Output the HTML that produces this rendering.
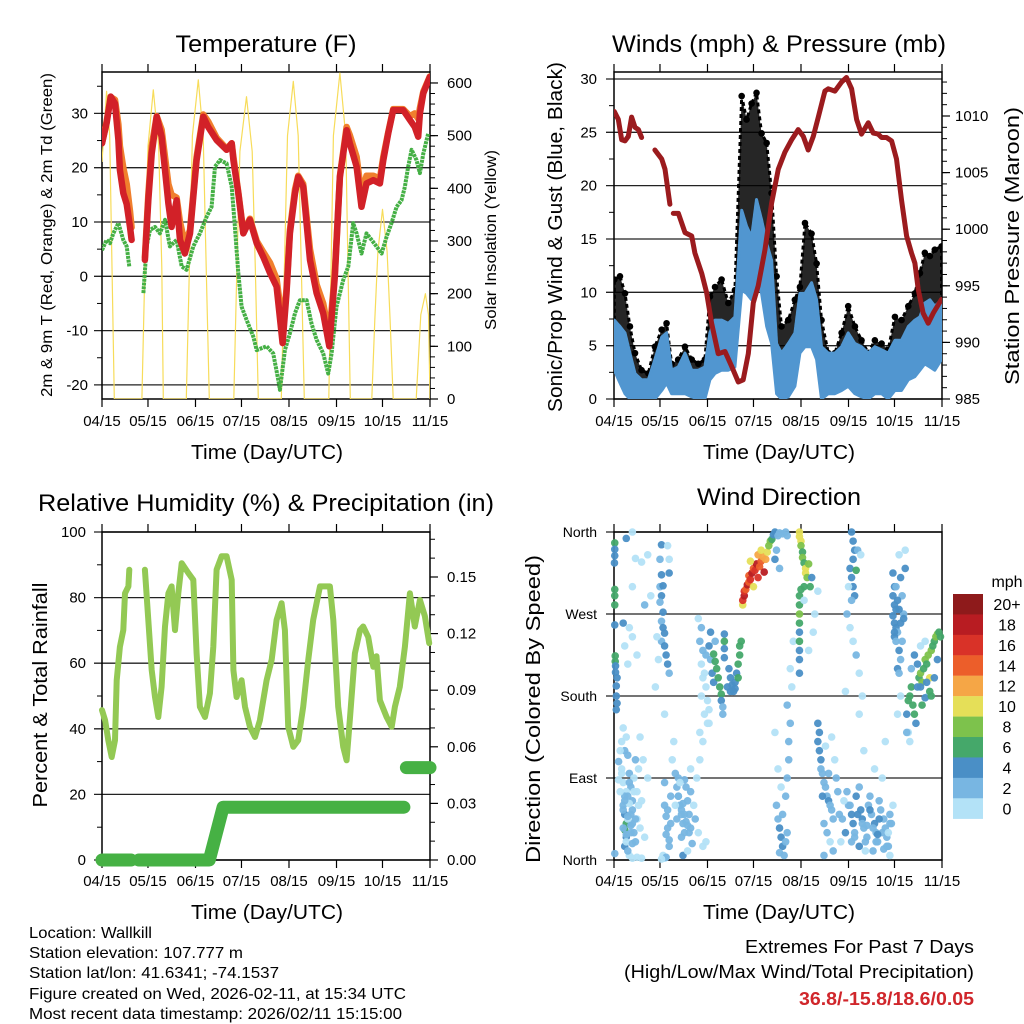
<!DOCTYPE html>
<html><head><meta charset="utf-8">
<style>
html,body{margin:0;padding:0;background:#fff}
svg{display:block}
text{font-family:"Liberation Sans",Arial,sans-serif;fill:#000}
</style></head>
<body>
<svg id="fig" xmlns="http://www.w3.org/2000/svg" width="1024" height="1024" viewBox="0 0 1024 1024">
<rect x="0" y="0" width="1024" height="1024" fill="#fff"/>
<text x="266" y="52" font-size="24" text-anchor="middle" textLength="181" lengthAdjust="spacingAndGlyphs">Temperature (F)</text>
<text x="779" y="52" font-size="24" text-anchor="middle" textLength="334" lengthAdjust="spacingAndGlyphs">Winds (mph) &amp; Pressure (mb)</text>
<text x="266" y="511" font-size="24" text-anchor="middle" textLength="456" lengthAdjust="spacingAndGlyphs">Relative Humidity (%) &amp; Precipitation (in)</text>
<text x="779" y="505" font-size="24" text-anchor="middle" textLength="164" lengthAdjust="spacingAndGlyphs">Wind Direction</text>
<text x="267" y="459" font-size="20" text-anchor="middle" textLength="152" lengthAdjust="spacingAndGlyphs">Time (Day/UTC)</text>
<text x="779" y="459" font-size="20" text-anchor="middle" textLength="152" lengthAdjust="spacingAndGlyphs">Time (Day/UTC)</text>
<text x="267" y="919" font-size="20" text-anchor="middle" textLength="152" lengthAdjust="spacingAndGlyphs">Time (Day/UTC)</text>
<text x="779" y="919" font-size="20" text-anchor="middle" textLength="152" lengthAdjust="spacingAndGlyphs">Time (Day/UTC)</text>
<text transform="translate(52,235) rotate(-90)" font-size="16" text-anchor="middle" textLength="324" lengthAdjust="spacingAndGlyphs">2m &amp; 9m T (Red, Orange) &amp; 2m Td (Green)</text>
<text transform="translate(496,240) rotate(-90)" font-size="16" text-anchor="middle" textLength="180" lengthAdjust="spacingAndGlyphs">Solar Insolation (Yellow)</text>
<text transform="translate(562,237) rotate(-90)" font-size="20" text-anchor="middle" textLength="350" lengthAdjust="spacingAndGlyphs">Sonic/Prop Wind &amp; Gust (Blue, Black)</text>
<text transform="translate(1019,246) rotate(-90)" font-size="20" text-anchor="middle" textLength="278" lengthAdjust="spacingAndGlyphs">Station Pressure (Maroon)</text>
<text transform="translate(47,695) rotate(-90)" font-size="20" text-anchor="middle" textLength="225" lengthAdjust="spacingAndGlyphs">Percent &amp; Total Rainfall</text>
<text transform="translate(540,709) rotate(-90)" font-size="20" text-anchor="middle" textLength="308" lengthAdjust="spacingAndGlyphs">Direction (Colored By Speed)</text>
<g font-size="16">
<text x="29" y="938" textLength="123" lengthAdjust="spacingAndGlyphs">Location: Wallkill</text>
<text x="29" y="958" textLength="214" lengthAdjust="spacingAndGlyphs">Station elevation: 107.777 m</text>
<text x="29" y="978" textLength="250" lengthAdjust="spacingAndGlyphs">Station lat/lon: 41.6341; -74.1537</text>
<text x="29" y="999" textLength="377" lengthAdjust="spacingAndGlyphs">Figure created on Wed, 2026-02-11, at 15:34 UTC</text>
<text x="29" y="1019" textLength="373" lengthAdjust="spacingAndGlyphs">Most recent data timestamp: 2026/02/11 15:15:00</text>
</g>
<text x="974" y="953" font-size="18" text-anchor="end" textLength="229" lengthAdjust="spacingAndGlyphs">Extremes For Past 7 Days</text>
<text x="974" y="978" font-size="18" text-anchor="end" textLength="350" lengthAdjust="spacingAndGlyphs">(High/Low/Max Wind/Total Precipitation)</text>
<text x="974" y="1005" font-size="18" font-weight="bold" text-anchor="end" textLength="175" lengthAdjust="spacingAndGlyphs" style="fill:#d0262b">36.8/-15.8/18.6/0.05</text>
<text x="1007" y="587" font-size="16" text-anchor="middle">mph</text>
</svg>
<script>
// ---------- DATA ----------
const monthLabels = ["04/15","05/15","06/15","07/15","08/15","09/15","10/15","11/15"];
const monthDays = [0,30,61,91,122,153,183,214];

const tempDays = [0,3,5.7,8.5,10.7,11.7,13.9,16.1,18.3,19.3,null,28,30.2,32.4,35.7,38.9,41.1,43.3,45.4,48.7,50.9,54.1,57.4,61.7,66.1,69.3,74.8,81.3,84.6,85.7,88.9,92.2,96.5,100.9,105.2,109.6,113.9,117.8,120.4,122.6,125.9,128,131.3,135.7,140,144.3,148.3,151.9,155.2,159.6,161.7,166.1,169.3,172.6,177,181.3,183.5,186.7,190,196.5,200.9,204.1,206.3,207.4,209.6,213.9];
const tempRed = [24.5,28.2,33.1,31.8,25.1,19.6,15.3,13.3,9.1,6.7,null,3.0,14,22.6,29.4,25.7,19.6,13.4,9.1,14,6.7,4.2,7.9,21.4,29.4,27.5,25.1,23.3,24.5,21.4,15.3,7.9,10.4,6.1,3.6,0.6,-1.9,-12.3,-3.1,7.9,15.3,18.3,16.5,3.0,-3.1,-6.8,-12.9,-0.1,18.3,26.9,24.5,20.2,12.8,17.1,17.7,17.1,21.4,26.3,30.6,30.6,28.8,27.5,25.7,30,33.7,36.7];
const tempOrange = [24.5,28.5,33,32.5,28,24,20,17,12,9,null,3.5,15,24,29.5,27,22,17,15,14.5,10,6,8.5,22,29.8,28.5,25.5,23.5,24.5,22,15.5,8.2,10.6,6.5,4.5,2.5,-0.5,-9,-2.5,8.5,16,18.5,17,5,-1.5,-5,-11,0.5,18.5,27.5,26,22,15,18.5,18.5,18,22,26.5,30.8,30.8,29.5,30,29,31,34,36.8];

const tdDays = [0,3,5.2,7.4,10.7,13.9,16.1,17.8,null,27,29.1,31.3,34.6,37.8,41.1,44.3,48.7,52,55.2,59.6,63.9,68.3,71.5,73.7,77,81.3,84.6,86.7,88.9,91.1,94.3,98.7,100.9,107.4,111.7,115,116.1,119.3,122.6,125.9,129.1,133.5,136.7,140,144.3,147.6,149.8,153,157.4,160.7,163.9,166.1,169.3,172.6,175.9,179.1,182.4,185.7,188.9,192.2,195.4,197.6,199.8,202,205.2,207.4,209.6,212.8];
const tdVals = [4.8,6.7,6.1,7.9,9.8,6.7,5.5,1.8,null,-3.1,5.5,8.5,9.1,7.9,10.4,5.5,6.7,1.8,1.2,5.5,7.9,11,12.8,20.2,21.4,20.8,16.5,9.1,0.6,-5.6,-8,-11.1,-13.6,-12.9,-14.2,-19.1,-20.9,-13.6,-10.5,-6.8,-4.4,-4.4,-8.7,-11.7,-14.2,-17.9,-14.2,-5.6,-0.7,1.8,9.8,7.9,4.2,7.9,6.7,5.5,4.2,7.3,9.8,12.8,14,16.5,20.2,23.3,21.4,19,22.6,26.3];

const solarDays = [0,3,5,6.5,8,26,28,30,33.5,37,39,40,55,57,59,62.8,66,68,70,86,88,90,94.3,98,100,102,117,119,121,124.8,128,130,132,148,149.5,151,155.2,159,160.5,162,176,178,180,183,186,188,190,205,206.5,208,211,213,214];
const solarVals = [450,584,500,250,0,0,250,480,587,480,250,0,0,250,500,606,500,250,0,0,250,470,574,470,250,0,0,250,500,603,500,250,0,0,250,500,619,500,250,0,0,150,280,360,280,150,0,0,80,160,200,160,0];

const windDays = [0.2,3.9,7.2,10.4,13.7,18.0,22.4,26.7,31.1,34.3,37.6,41.9,46.3,50.7,55.0,59.3,62.6,65.9,70.2,74.6,78.9,83.3,86.5,89.8,93.0,96.3,99.6,102.8,106.1,109.3,113.7,118.0,121.3,124.6,128.9,132.2,135.4,139.8,144.1,148.5,152.8,157.2,161.5,165.9,170.2,174.6,178.9,183.3,187.6,192.0,196.3,199.6,202.8,206.1,209.3,213.7];
const windHigh = [7.4,6.8,6.2,4.3,2.4,1.8,1.8,3.7,5.8,6.2,2.7,3.0,4.3,2.7,2.7,3.0,6.2,7.4,7.4,7.1,7.7,17.7,16.2,15.2,18.7,16.8,14.6,13.0,5.2,4.3,5.2,6.2,9.9,9.9,10.9,9.3,4.9,4.3,4.3,4.9,6.2,5.2,4.9,4.3,4.9,4.6,4.3,5.5,5.5,6.8,7.4,7.7,9.0,9.3,8.7,9.3];
const windLow = [2.7,1.5,0.5,0,0,0,0,0,0.8,1.5,0.5,0.5,0.5,0.2,0,0,1.8,2.4,2.7,2.7,3.0,10.2,9.9,9.3,11.5,9.9,6.8,5.2,0.5,0,0.2,1.2,4.3,4.9,4.9,3.7,0,0.5,0.5,0.8,1.2,0.5,0.2,0,0.5,0.5,0,0.8,0.8,1.8,2.1,2.7,3.3,3.0,2.7,3.7];
const gustHigh = [11.2,11.5,9.9,6.8,4.3,2.7,2.4,4.9,6.5,7.1,3.3,3.7,4.9,3.7,3.3,3.7,9.6,10.5,11.2,9.0,10.2,28.4,26.2,27.7,28.7,24.9,24.0,19.3,11.5,6.8,7.4,9.3,10.5,16.5,15.5,12.7,7.4,4.3,4.3,6.2,8.7,6.8,5.5,4.3,5.5,5.2,4.6,7.7,7.4,8.7,9.9,11.8,13.7,13.4,14.0,14.3];

const presDays = [0.2,2.8,5,7.2,9.3,11.5,13.7,15.9,18,null,26.7,31.1,33.3,36.5,null,38.7,42,46.3,50.7,52.8,57.2,60.4,63.7,68,72.4,76.7,81.1,84.3,87.6,90.9,94.1,98.5,102.8,107.2,111.5,115.9,120.2,123.5,126.7,130,133.3,137.6,139.8,144.1,148.5,151.7,155,158.3,161.5,165.9,169.1,172.4,174.6,177.8,181.1,184.3,187.6,190.9,194.1,196.3,198.5,201.7,205,208.3,213.7];
const presVals = [1010.4,1009.7,1007.9,1007.8,1008.2,1009.9,1009.0,1008.8,1008.1,null,1007.0,1006.2,1005.3,1002.2,null,1001.4,1001.4,999.7,999.4,997.9,996.1,994.4,991.7,989.0,989.2,987.9,986.5,986.7,989.0,993.5,995.0,998.2,1002.3,1005.3,1006.8,1007.9,1008.8,1008.2,1007.0,1008.2,1009.9,1012.2,1012.4,1012.2,1013.0,1013.4,1012.4,1009.7,1008.4,1009.4,1008.5,1008.4,1008.1,1008.1,1007.8,1006.2,1002.6,999.4,997.9,997.0,994.7,992.6,991.7,992.6,993.8];

const rhDays = [0,2,4.1,6.3,8.5,9.6,11.7,13.9,15,17.2,17.8,null,28,30.2,32.4,34.6,36.7,38.9,41.1,43.3,45.4,47.6,49.8,52,56.3,59.6,61.7,63.9,67.2,70.4,72.6,74.8,78,81.3,84.6,85.7,87.8,91.1,93.3,96.5,99.8,103,107.4,110.7,113.9,117.2,119.3,121.5,124.8,128,131.3,134.6,137.8,142.2,148.7,150.9,154.1,157.4,159.6,161.7,165,168.3,170.4,173.7,177,179.1,181.3,185.7,189,191.1,194.3,197.6,200.9,204.1,207.4,210.7,213.5];
const rhVals = [45.7,42.6,36.5,31.4,36.5,54.8,65,70.1,81.3,83.4,88.5,null,88.5,73.2,57.9,49.7,43.6,52.8,71.2,81.3,83.4,70.1,81.3,90.5,87.5,85.4,63,46.7,43.6,50.8,65,88.5,92.6,92.6,85.4,57.9,49.7,54.8,46.7,40.6,37.5,42.6,54.8,61.1,73.2,78.3,70.1,40.6,34.5,36.5,46.7,61.1,73.2,83.4,83.4,73.2,46.7,34.5,30.4,42.6,63,70.1,71.2,68,58.9,62.1,48.7,43.6,40.6,46.7,52.8,65,81.3,71.2,79.3,74.3,66.1];

const precipDays = [0,19,null,24,70,79,197,null,197.6,null,198.6,214];
const precipVals = [0,0,null,0,0,0.028,0.028,null,0.036,null,0.049,0.049];

const speedLabels = ["20+","18","16","14","12","10","8","6","4","2","0"];
const speedColors = ["#b3e2f7","#78b6e2","#4a8fc6","#45a86a","#7dc24c","#e5df58","#f5a646","#ec5e2a","#d93228","#b81c22","#8e1a1b"];

const dirDays = [0.5,0.5,0.5,0.3,0.5,0.5,0.5,0.5,0.8,0.8,1,1,2,1.5,1.5,2,1.5,0.5,12,8,14,18,22,12,24,20,6,10,12,15,7,9,
5,6,7,8,9,6,7,8,7,8,7,10,11,12,11,12,13,14,10,13,15,16,15,16,17,4,5,6,8,3,12,15,18,20,22,19,17,9,14,18,
31,30,31,30,32,31,30,32,31,32,33,31,33,34,35,36,29,28,27,33,36,36,35,
40,41,42,43,44,45,46,47,48,49,50,44,42,46,50,52,53,55,41,38,50,54,56,58,60,39,58,62,45,48,
55,57,56,58,57,59,60,61,62,63,62,63,64,65,60,58,57,61,59,56,66,
65,66,67,68,69,70,70,71,71,72,72,72,72,75,76,77,78,79,80,81,82,82,83,81,79,76,74,
84,84,85,85,86,87,88,88,89,90,91,92,93,94,95,96,97,98,91,89,94,99,100,101,102,103,104,96,
105,106,107,108,110,112,113,106,108,105,
106,107,108,109,110,108,111,112,113,110,112,113,114,114,115,113,109,107,105,116,115,117,
121,121,122,122,123,123,124,125,125,126,124,122,121,121,121,121,121,121,121,121,121,128,127,129,124,130,127,131,133,
133,134,133,134,135,135,136,137,138,139,140,141,142,143,137,139,141,143,138,142,145,146,147,136,140,144,137,148,
155,156,157,156,154,155,156,157,155,153,158,152,154,156,158,160,151,162,160,159,161,
152,153,155,156,157,158,160,161,162,163,165,166,167,168,170,171,172,173,174,176,177,178,179,180,181,169,164,175,170,163,177,180,182,160,
182,183,182,183,184,182,183,184,185,183,184,186,187,185,186,188,189,190,186,190,187,185,192,
191,192,193,194,195,196,197,198,199,200,201,202,203,204,205,206,207,208,209,210,211,212,213,198,196,194,200,203,191,193,205,
6,7,9,10,11,8,9,12,13,14,5,6,8,10,12,4,7,11,3,9,
33,34,35,36,37,33,35,37,34,36,42,44,47,49,51,43,45,48,40,46,
149,151,154,157,159,162,164,167,169,171,173,175,178,180,150,155,165,172,176,179,
186,187,184,185,183,188,187,189,200,203,206,209,211,207,204,201,33,32,34,31];
const dirDegs = [348,341,334,326,297,290,280,258,224,218,213,206,200,191,180,172,165,7,360,353,331,327,335,300,290,280,260,255,245,225,235,215,
130,145,120,135,115,60,50,40,33,25,15,95,80,65,50,40,30,20,5,90,75,60,45,100,35,120,100,85,75,108,2,3,2,25,90,110,135,70,110,65,
346,330,313,300,301,290,283,272,262,255,249,240,235,225,215,205,220,245,190,160,330,315,345,
95,80,70,60,50,40,30,80,65,50,35,25,90,88,75,60,45,30,45,110,100,90,110,15,20,130,130,150,5,10,
265,255,240,230,215,205,190,175,165,250,235,220,205,195,225,200,180,150,160,140,240,
226,218,210,200,190,182,175,168,160,248,240,232,222,210,200,192,185,195,205,215,225,235,240,200,188,185,190,
280,285,290,295,297,302,305,312,308,315,320,318,325,310,322,328,333,316,300,328,335,330,338,345,350,352,357,340,
360,358,356,359,358,360,356,340,320,330,
60,45,35,25,15,8,5,20,30,50,70,90,110,130,150,170,80,100,140,190,210,240,
360,355,350,345,338,332,326,320,315,310,300,297,290,280,270,260,250,240,230,220,205,300,325,310,285,250,230,270,295,
150,140,130,120,110,100,95,85,80,70,65,60,55,45,40,30,20,10,125,135,90,75,50,70,95,110,5,20,
360,350,340,330,320,310,300,290,285,300,318,270,255,240,225,205,185,180,160,340,335,
75,60,50,40,30,70,80,55,45,35,25,60,70,50,40,30,20,65,55,45,35,25,15,50,40,10,10,90,100,120,130,5,60,15,
315,300,290,280,275,268,260,255,250,245,240,230,220,210,205,290,270,320,335,340,180,160,140,
160,175,180,190,170,160,150,190,200,205,195,210,220,215,225,200,230,235,240,245,248,250,245,215,225,210,235,240,140,130,180,
55,70,45,85,30,20,10,55,75,45,95,35,28,62,18,75,65,38,88,48,
60,48,35,22,70,85,55,40,28,15,70,55,42,30,18,85,62,38,60,50,
45,30,60,25,50,40,20,55,35,20,45,30,15,40,65,20,38,28,12,30,
275,260,300,285,250,240,310,265,190,178,185,200,220,180,195,170,2,5,3,1];
const dirSpds = [6,4,4,4,6,6,6,4,6,6,4,4,4,4,4,4,4,2,0,4,0,0,0,0,0,2,4,0,0,0,0,0,
0,0,2,0,2,2,4,6,6,4,4,2,2,2,2,2,2,2,0,0,0,0,0,0,0,0,0,0,0,2,0,0,0,0,0,0,0,2,2,0,
4,2,4,2,4,4,2,4,2,4,4,2,4,4,4,2,0,0,0,0,0,4,0,
2,2,2,2,2,2,2,2,2,2,2,2,2,2,2,0,2,0,2,0,0,0,0,0,0,0,0,0,4,0,
0,2,2,2,0,0,0,0,0,4,4,2,4,4,2,0,0,0,0,0,2,
6,6,6,6,6,6,4,2,2,4,6,4,4,4,4,4,4,4,4,6,6,6,6,6,4,4,4,
10,16,18,16,14,18,14,14,16,18,14,16,18,16,14,14,12,18,10,10,12,12,10,8,8,6,4,10,
4,4,2,2,2,2,2,2,2,4,
2,2,4,4,4,2,2,2,2,2,2,2,2,2,2,2,0,0,0,0,0,0,
10,10,10,8,6,8,6,10,10,8,6,6,6,6,8,6,4,6,4,4,4,6,8,4,0,0,0,0,0,
4,4,4,4,4,2,2,2,2,2,4,2,2,2,2,2,0,2,0,0,2,2,2,4,2,0,2,0,
4,4,4,4,4,4,4,4,2,0,6,2,0,0,2,0,0,0,0,2,0,
2,2,4,4,2,4,2,4,4,2,2,2,2,2,4,2,2,2,2,2,2,2,2,2,2,2,0,0,0,0,0,0,0,4,
4,4,4,4,4,4,4,4,2,4,2,4,2,4,2,2,2,4,0,0,0,0,0,
4,6,6,6,6,6,4,4,6,8,8,6,8,6,8,10,8,6,6,8,8,6,6,4,4,2,0,0,2,0,0,
2,2,0,2,2,0,2,2,0,2,0,2,2,0,2,0,2,2,0,2,
2,2,2,2,2,2,2,2,2,2,2,2,2,2,2,0,2,2,0,2,
2,4,2,2,4,2,2,4,2,2,4,2,2,2,0,2,2,4,2,0,
4,4,2,4,4,2,4,4,4,4,6,4,4,6,4,6,0,0,2,0];

// ---------- HELPERS ----------
const NS = "http://www.w3.org/2000/svg";
const svg = document.getElementById("fig");
function mk(tag, attrs, parent) {
  const e = document.createElementNS(NS, tag);
  for (const k in attrs) e.setAttribute(k, attrs[k]);
  (parent || svg).appendChild(e);
  return e;
}
function pathFrom(xs, ys, fx, fy) {
  let d = "", pen = false;
  for (let i = 0; i < xs.length; i++) {
    if (xs[i] === null || ys[i] === null) { pen = false; continue; }
    d += (pen ? "L" : "M") + fx(xs[i]).toFixed(1) + "," + fy(ys[i]).toFixed(1);
    pen = true;
  }
  return d;
}
function speedColor(s) { return speedColors[Math.min(10, Math.floor(s / 2))]; }

const P = {
  t: {x0:102, x1:430, y0:72, y1:399},
  w: {x0:614, x1:942, y0:72, y1:399},
  r: {x0:102, x1:430, y0:532, y1:860},
  d: {x0:614, x1:942, y0:532, y1:860}
};
function xs(p) { return d => p.x0 + d * (p.x1 - p.x0) / 214; }
const xT = xs(P.t), xW = xs(P.w), xR = xs(P.r), xD = xs(P.d);
const yT = v => 276.3 - v * 5.43;
const yS = v => 399 - v * 0.5267;
const yW = v => 399 - v * 10.667;
const yP = v => 399 - (v - 985) * 11.32;
const yRH = v => 860 - v * 3.28;
const yPr = v => 860 - v * 1886.7;
const yDir = v => 860 - v * 0.9111;

function axes(key, p, fx, left, right, labelY) {
  const g = mk("g", {});
  
  
  left.majors.forEach((v, i) => {
    const y = left.f(v);
    const gl = mk("line", {x1:p.x0 - 8, x2:p.x1, y1:y, y2:y, stroke:"#222", "stroke-width":1.3}, g);
    
    
    const t = mk("text", {x:left.lx, y:y + 5, "font-size":left.fs || 15, "text-anchor":"end"}, g);
    t.textContent = left.labels[i];
    
    
  });
  (left.minors || []).forEach(v => {
    const y = left.f(v);
    const tk = mk("line", {x1:p.x0 - 5, x2:p.x0, y1:y, y2:y, stroke:"#000", "stroke-width":1}, g);
    
    
  });
  if (right) {
    right.majors.forEach((v, i) => {
      const y = right.f(v);
      const tk = mk("line", {x1:p.x1, x2:p.x1 + 8, y1:y, y2:y, stroke:"#000", "stroke-width":1.2}, g);
      
      
      const t = mk("text", {x:right.lx, y:y + 5, "font-size":15}, g);
      t.textContent = right.labels[i];
      
      
    });
    right.minors.forEach(v => {
      const y = right.f(v);
      const tk = mk("line", {x1:p.x1, x2:p.x1 + 5, y1:y, y2:y, stroke:"#000", "stroke-width":1}, g);
      
      
    });
  }
  monthDays.forEach((d, i) => {
    const x = fx(d);
    const tb = mk("line", {x1:x, x2:x, y1:p.y1, y2:p.y1 + 8, stroke:"#000", "stroke-width":1.2}, g);
    
    
    const tt = mk("line", {x1:x, x2:x, y1:p.y0 - 8, y2:p.y0, stroke:"#000", "stroke-width":1.2}, g);
    
    
    const t = mk("text", {x:x, y:labelY, "font-size":15, "text-anchor":"middle"}, g);
    t.textContent = monthLabels[i];
    
    
  });
  const fr = mk("rect", {x:p.x0, y:p.y0, width:p.x1 - p.x0, height:p.y1 - p.y0, fill:"none", stroke:"#000", "stroke-width":1.5}, g);
  
  
}
function range(a, b, s) { const r = []; for (let v = a; v <= b + 1e-9; v += s) r.push(+v.toFixed(4)); return r; }

// ---------- PANEL 1: TEMPERATURE ----------
const clip1 = mk("clipPath", {id:"c1"});


const cr1 = mk("rect", {x:102, y:72, width:328, height:327}, clip1);


axes("temperature", P.t, xT,
  {majors:[-20,-10,0,10,20,30], labels:["-20","-10","0","10","20","30"], f:yT, lx:88, minors:[-15,-5,5,15,25,35]},
  {majors:[0,100,200,300,400,500,600], labels:["0","100","200","300","400","500","600"], f:yS, lx:447, minors:range(20,600,20)}, 426);
const solar = mk("path", {d:pathFrom(solarDays, solarVals, xT, yS), fill:"none", stroke:"#f7dc5a", "stroke-width":1.2, "stroke-linejoin":"round", "clip-path":"url(#c1)"});


const tdLine = mk("path", {d:pathFrom(tdDays, tdVals, xT, yT), fill:"none", stroke:"#45b045", "stroke-width":4, "stroke-dasharray":"3 0.8", "stroke-linejoin":"round", "clip-path":"url(#c1)"});


const orLine = mk("path", {d:pathFrom(tempDays, tempOrange, xT, yT), fill:"none", stroke:"#f07f2d", "stroke-width":6.5, "stroke-linejoin":"round", "stroke-linecap":"round", "clip-path":"url(#c1)"});


const redLine = mk("path", {d:pathFrom(tempDays, tempRed, xT, yT), fill:"none", stroke:"#d22128", "stroke-width":6.5, "stroke-linejoin":"round", "stroke-linecap":"round", "clip-path":"url(#c1)"});



// ---------- PANEL 2: WINDS ----------
const clip2 = mk("clipPath", {id:"c2"});


const cr2 = mk("rect", {x:614, y:72, width:328, height:327}, clip2);


axes("winds", P.w, xW,
  {majors:[0,5,10,15,20,25,30], labels:["0","5","10","15","20","25","30"], f:yW, lx:597, minors:[2.5,7.5,12.5,17.5,22.5,27.5]},
  {majors:[985,990,995,1000,1005,1010], labels:["985","990","995","1000","1005","1010"], f:yP, lx:955, minors:range(986,1013,1)}, 426);
function band(lo, hi, fy) {
  let d = "";
  windDays.forEach((dd, i) => { d += (i ? "L" : "M") + xW(dd).toFixed(1) + "," + fy(hi[i]).toFixed(1); });
  for (let i = windDays.length - 1; i >= 0; i--) d += "L" + xW(windDays[i]).toFixed(1) + "," + fy(lo[i]).toFixed(1);
  return d + "Z";
}
const gustBand = mk("path", {d:band(windHigh, gustHigh, yW), fill:"#000", "fill-opacity":0.85, stroke:"#000", "stroke-width":3, "stroke-dasharray":"4 3", "stroke-linejoin":"round", "clip-path":"url(#c2)"});


windDays.forEach((dd, i) => {
  const c = mk("circle", {cx:xW(dd), cy:yW(gustHigh[i]), r:3.3, fill:"#000", "clip-path":"url(#c2)"});
  
  
});
const windBand = mk("path", {d:band(windLow, windHigh, yW), fill:"#5196d0", stroke:"#5196d0", "stroke-width":3, "stroke-linejoin":"round", "clip-path":"url(#c2)"});


const presLine = mk("path", {d:pathFrom(presDays, presVals, xW, yP), fill:"none", stroke:"#9b1b1e", "stroke-width":5, "stroke-linejoin":"round", "stroke-linecap":"round", "clip-path":"url(#c2)"});



// ---------- PANEL 3: HUMIDITY ----------
axes("humidity", P.r, xR,
  {majors:[0,20,40,60,80,100], labels:["0","20","40","60","80","100"], f:yRH, lx:86, minors:[10,30,50,70,90]},
  {majors:[0,0.03,0.06,0.09,0.12,0.15], labels:["0.00","0.03","0.06","0.09","0.12","0.15"], f:yPr, lx:447, minors:[0.01,0.02,0.04,0.05,0.07,0.08,0.1,0.11,0.13,0.14,0.16,0.17]}, 886);
const rhLine = mk("path", {d:pathFrom(rhDays, rhVals, xR, yRH), fill:"none", stroke:"#93c954", "stroke-width":6, "stroke-linejoin":"round", "stroke-linecap":"round"});


const prLine = mk("path", {d:pathFrom(precipDays, precipVals, xR, yPr), fill:"none", stroke:"#46b144", "stroke-width":13, "stroke-linejoin":"round", "stroke-linecap":"round"});



// ---------- PANEL 4: WIND DIRECTION ----------
axes("direction", P.d, xD,
  {majors:[0,90,180,270,360], labels:["North","East","South","West","North"], f:yDir, lx:597, fs:14},
  null, 886);
dirDays.forEach((dd, i) => {
  const c = mk("circle", {cx:xD(dd), cy:yDir(dirDegs[i]), r:3.8, fill:speedColor(dirSpds[i]), "fill-opacity":0.95});
  
  
});
speedLabels.forEach((lab, i) => {
  const y = 594 + i * 20.43;
  const r = mk("rect", {x:953, y:y, width:30, height:20.6, fill:speedColors[10 - i]});
  
  
  const t = mk("text", {x:1007, y:y + 16, "font-size":16, "text-anchor":"middle"});
  t.textContent = lab;
  
  
});
</script>
</body></html>
